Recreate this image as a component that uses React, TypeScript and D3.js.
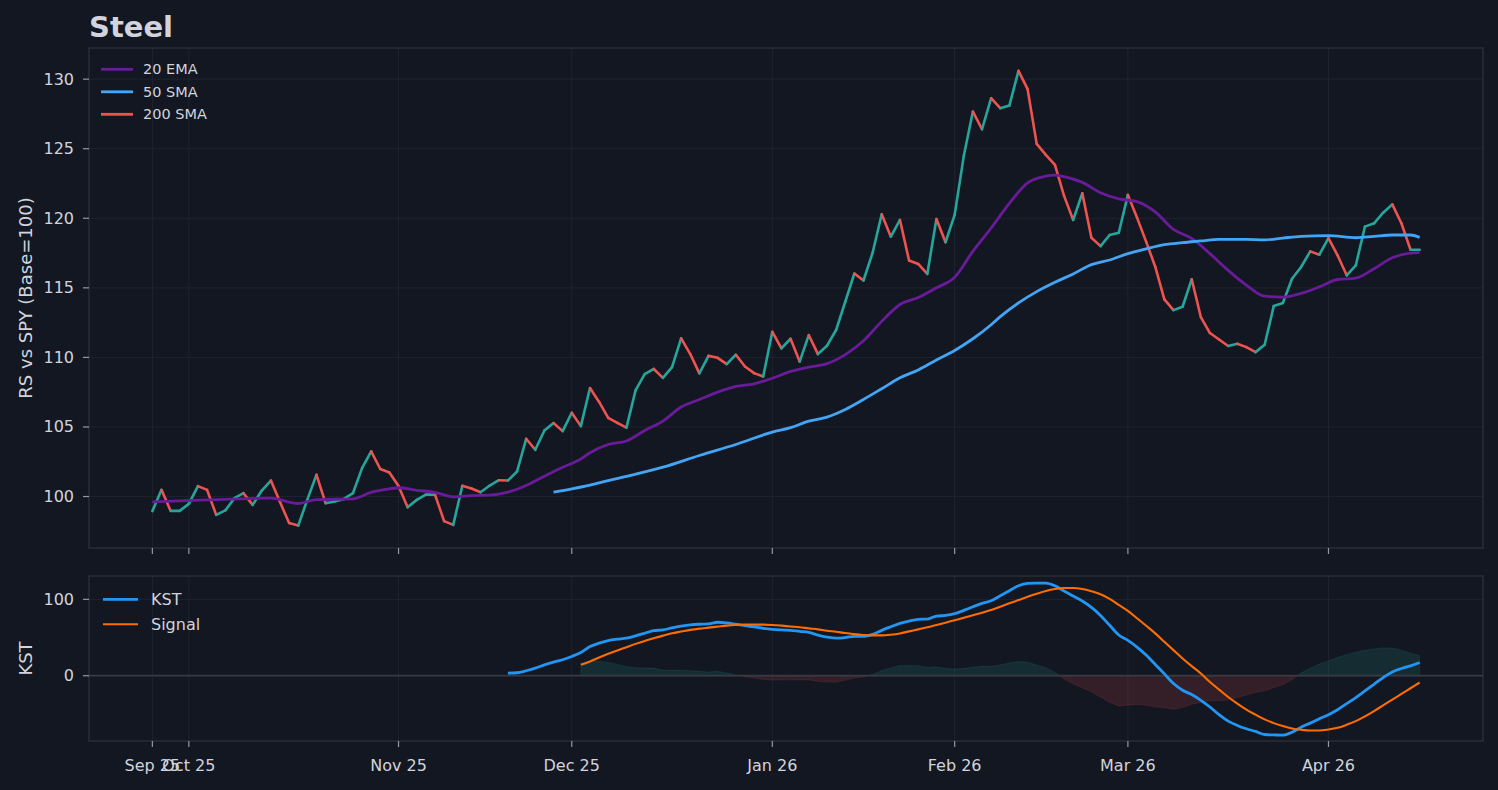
import React, { useEffect, useRef } from 'react';
import * as d3 from 'd3';

// first trading day shown and the NYSE holidays inside the window
const startDate = '2025-09-25';
const marketHolidays = ['2025-11-27', '2025-12-25', '2026-01-01', '2026-01-19', '2026-02-16', '2026-04-03'];

// relative strength vs SPY, one value per trading day
const rsValues = [
  98.95, 100.48, 98.97, 98.97, 99.47, 100.75, 100.48, 98.68, 99.0, 99.88,
  100.24, 99.4, 100.43, 101.15, 99.6, 98.09, 97.91, 99.78, 101.56, 99.52,
  99.64, 99.83, 100.24, 102.04, 103.24, 101.98, 101.73, 100.75, 99.23, 99.76,
  100.14, 100.14, 98.23, 97.96, 100.77, 100.58, 100.31, 100.79, 101.17, 101.15,
  101.8, 104.15, 103.36, 104.75, 105.28, 104.7, 106.02, 105.06, 107.8, 106.8,
  105.66, 105.3, 104.95, 107.63, 108.8, 109.17, 108.53, 109.3, 111.37, 110.24,
  108.85, 110.11, 109.97, 109.52, 110.19, 109.35, 108.87, 108.63, 111.84, 110.65,
  111.34, 109.7, 111.6, 110.24, 110.84, 111.97, 114.0, 116.03, 115.53, 117.52,
  120.29, 118.68, 119.88, 116.96, 116.72, 116.0, 119.95, 118.28, 120.25, 124.47,
  127.67, 126.4, 128.63, 127.91, 128.1, 130.6, 129.28, 125.35, 124.56, 123.84,
  121.61, 119.88, 121.8, 118.6, 118.0, 118.8, 118.96, 121.68, 120.05, 118.32,
  116.52, 114.17, 113.4, 113.64, 115.62, 112.9, 111.75, 111.29, 110.82, 110.98,
  110.74, 110.38, 110.91, 113.69, 113.91, 115.65, 116.5, 117.62, 117.38, 118.58,
  117.34, 115.9, 116.62, 119.4, 119.64, 120.4, 121.0, 119.64, 117.74, 117.74,
];

// 20 EMA, read at these day indices
const emaIdx = [
  0, 6, 13, 16, 18, 22, 24, 26, 27, 29, 31, 33, 35, 37, 39, 41, 43, 45, 47, 48,
  50, 52, 54, 56, 58, 60, 62, 64, 66, 68, 70, 72, 74, 76, 78, 80, 82, 84, 86, 88,
  90, 92, 94, 96, 98, 99, 100, 102, 104, 106, 108, 110, 112, 114, 116, 118, 120, 122, 124, 126,
  128, 130, 132, 134, 136, 138, 139,
];
const emaValues = [
  99.62, 99.76, 99.88, 99.5, 99.78, 99.83, 100.3, 100.55, 100.63, 100.45, 100.3, 99.98, 100.07, 100.1, 100.31, 100.79, 101.46, 102.1, 102.7, 103.15,
  103.74, 103.99, 104.75, 105.42, 106.43, 106.97, 107.5, 107.91, 108.1, 108.5, 108.99, 109.3, 109.55, 110.2, 111.2, 112.59, 113.8, 114.3, 115.0, 115.76,
  117.63, 119.3, 121.07, 122.55, 123.03, 123.1, 123.0, 122.58, 121.84, 121.4, 121.2, 120.46, 119.2, 118.55, 117.46, 116.26, 115.2, 114.4, 114.33, 114.6,
  115.07, 115.6, 115.7, 116.37, 117.16, 117.5, 117.53,
];

// 50 SMA, read at these day indices
const smaIdx = [
  44, 46, 48, 50, 52, 56, 60, 64, 68, 70, 72, 74, 76, 78, 80, 82, 84, 86, 88, 90,
  92, 93, 95, 97, 99, 101, 103, 105, 107, 109, 111, 113, 115, 117, 120, 122, 124, 126, 129, 132,
  134, 136, 138, 139,
];
const smaValues = [
  100.31, 100.55, 100.82, 101.15, 101.45, 102.11, 102.95, 103.74, 104.63, 104.95, 105.42, 105.71, 106.26, 106.98, 107.75, 108.53, 109.1, 109.82, 110.5, 111.34,
  112.35, 112.93, 113.92, 114.73, 115.4, 116.0, 116.67, 117.0, 117.46, 117.8, 118.1, 118.25, 118.37, 118.49, 118.49, 118.45, 118.58, 118.7, 118.75, 118.6,
  118.7, 118.8, 118.8, 118.63,
];

// KST and its signal, one value per day from their first index
const kstStart = 39;
const kstValues = [
  3.5, 3.9, 6.5, 10, 14.3, 17.8, 20.9, 25.2, 30.4, 38.2,
  42.6, 46.1, 47.8, 49.1, 52.2, 55.6, 59.1, 60, 62.6, 64.8,
  66.5, 67.4, 67.8, 70, 69.1, 67.4, 65.6, 63.9, 62.1, 60.8,
  60, 59.5, 58, 56.8, 53.3, 50.7, 49.3, 50, 51.6, 51.6,
  54.2, 59.4, 64.1, 68.6, 71.6, 73.8, 74.2, 78.1, 78.9, 81.2,
  85.6, 90.3, 94.8, 98.2, 104.7, 111.3, 117.8, 120.9, 121.3, 121.3,
  117.8, 110.9, 104.3, 97.8, 89.5, 79, 66, 53.3, 46.3, 37.5,
  27, 14.7, 2.4, -10.3, -19, -24.7, -32.2, -41, -51, -59.5,
  -65.1, -69.5, -73, -77, -77.5, -77.9, -74, -67.4, -62.1, -56.3,
  -51, -44.5, -36.6, -28.7, -20, -11.2, -2.4, 5, 9.5, 12.9,
  17.4,
];
const signalStart = 47;
const signalValues = [
  14.3, 18.7, 23.9, 28.7, 33, 37.4, 41.7, 45.6, 49.1, 52.5,
  55.6, 57.8, 60, 61.7, 63, 64.3, 65.6, 66.5, 66.9, 66.9,
  66.9, 66.5, 65.6, 64.5, 63.5, 62, 60.7, 58.9, 57.6, 55.9,
  54.6, 53.3, 52.8, 52.8, 53.7, 55.4, 58.1, 60.7, 63.4, 66.4,
  69.4, 72.5, 75.9, 79.1, 82.5, 86, 90.3, 94.8, 99.1, 103.4,
  107.3, 110.9, 113.5, 114.8, 114.8, 113.5, 110.6, 106.8, 100.7, 92.8,
  84.9, 75.2, 65.5, 55.5, 44.5, 33.5, 22.6, 12.5, 2.9, -8.2,
  -18.2, -27.9, -36.6, -44.5, -51, -57.2, -62.1, -66, -69.1, -70.8,
  -71.7, -71.7, -70.4, -68.2, -64.2, -59.5, -53.3, -46.3, -38.8, -31.3,
  -23.9, -16.4, -8.9,
];

const rsTicks = [100, 105, 110, 115, 120, 125, 130];
const kstTicks = [0, 100];

const C = {
  bg: '#131722',
  grid: '#1f2330',
  spine: '#2a2e39',
  text: '#d1d4dc',
  tick: '#9598a1',
  up: '#26a69a',
  down: '#ef5350',
  ema: '#6a1b9a',
  sma: '#42a5f5',
  kst: '#2196f3',
  signal: '#ff6d00',
};

const FONT = '"DejaVu Sans", sans-serif';

const buildTradingDays = (start: string, count: number) => {
  const fmt = d3.timeFormat('%Y-%m-%d');
  const holidays = new Set(marketHolidays);
  const out: Date[] = [];
  const d = new Date(start + 'T12:00:00');
  while (out.length < count) {
    const dow = d.getDay();
    if (dow !== 0 && dow !== 6 && !holidays.has(fmt(d))) out.push(new Date(d));
    d.setDate(d.getDate() + 1);
  }
  return out;
};

export default function App() {
  const svgRef = useRef<SVGSVGElement>(null);

  useEffect(() => {
    if (!svgRef.current) return;
    const svg = d3.select(svgRef.current);
    svg.selectAll('*').remove();

    const width = 1498;
    const height = 790;
    const left = 89;
    const right = 1483;
    const top1 = { y0: 48, y1: 548 };
    const top2 = { y0: 576, y1: 741 };

    const n = rsValues.length;
    const days = buildTradingDays(startDate, n);
    const monthFmt = d3.timeFormat('%b %y');
    const tickIdx: number[] = [0];
    for (let i = 1; i < n; i++) {
      if (days[i].getMonth() !== days[i - 1].getMonth()) tickIdx.push(i);
    }

    const pad = (n - 1) * 0.05;
    const x = d3.scaleLinear().domain([-pad, n - 1 + pad]).range([left, right]);
    const yRS = d3.scaleLinear().domain([96.3, 132.24]).range([top1.y1, top1.y0]);
    const yK = d3.scaleLinear().domain([-85.5, 130.6]).range([top2.y1, top2.y0]);

    svg.append('rect').attr('width', width).attr('height', height).attr('fill', C.bg);

    // Title
    svg
      .append('text')
      .attr('x', left)
      .attr('y', 37)
      .attr('font-family', FONT)
      .attr('font-size', '29px')
      .attr('font-weight', 'bold')
      .attr('fill', C.text)
      .text('Steel');

    const drawFrame = (
      panel: { y0: number; y1: number },
      y: d3.ScaleLinear<number, number>,
      ticks: number[],
      label: string,
      showLabels: boolean,
    ) => {
      const g = svg.append('g');
      // grid
      g.selectAll('.hg')
        .data(ticks)
        .enter()
        .append('line')
        .attr('x1', left)
        .attr('x2', right)
        .attr('y1', (d) => y(d))
        .attr('y2', (d) => y(d))
        .attr('stroke', C.grid)
        .attr('stroke-width', 1);
      g.selectAll('.vg')
        .data(tickIdx)
        .enter()
        .append('line')
        .attr('x1', (d) => x(d))
        .attr('x2', (d) => x(d))
        .attr('y1', panel.y0)
        .attr('y2', panel.y1)
        .attr('stroke', C.grid)
        .attr('stroke-width', 1);
      // frame
      g.append('rect')
        .attr('x', left)
        .attr('y', panel.y0)
        .attr('width', right - left)
        .attr('height', panel.y1 - panel.y0)
        .attr('fill', 'none')
        .attr('stroke', C.spine)
        .attr('stroke-width', 1.5);
      // y ticks
      ticks.forEach((t) => {
        g.append('line')
          .attr('x1', left - 6)
          .attr('x2', left)
          .attr('y1', y(t))
          .attr('y2', y(t))
          .attr('stroke', C.tick)
          .attr('stroke-width', 1.2);
        g.append('text')
          .attr('x', left - 15)
          .attr('y', y(t))
          .attr('text-anchor', 'end')
          .attr('dominant-baseline', 'central')
          .attr('font-family', FONT)
          .attr('font-size', '16px')
          .attr('fill', C.text)
          .text(t);
      });
      // x ticks
      tickIdx.forEach((i) => {
        g.append('line')
          .attr('x1', x(i))
          .attr('x2', x(i))
          .attr('y1', panel.y1)
          .attr('y2', panel.y1 + 6)
          .attr('stroke', C.tick)
          .attr('stroke-width', 1.2);
        if (showLabels) {
          g.append('text')
            .attr('x', x(i))
            .attr('y', panel.y1 + 30)
            .attr('text-anchor', 'middle')
            .attr('font-family', FONT)
            .attr('font-size', '16px')
            .attr('fill', C.text)
            .text(monthFmt(days[i]));
        }
      });
      // y label
      g.append('text')
        .attr('transform', `translate(25, ${(panel.y0 + panel.y1) / 2}) rotate(-90)`)
        .attr('text-anchor', 'middle')
        .attr('dominant-baseline', 'central')
        .attr('font-family', FONT)
        .attr('font-size', '18px')
        .attr('fill', C.text)
        .text(label);
    };

    drawFrame(top1, yRS, rsTicks, 'RS vs SPY (Base=100)', false);
    drawFrame(top2, yK, kstTicks, 'KST', true);

    // ---- top panel: RS line coloured by direction
    const rsPts = rsValues.map((v, i) => ({ i, v }));
    svg
      .append('g')
      .selectAll('line')
      .data(rsPts.slice(1))
      .enter()
      .append('line')
      .attr('x1', (d) => x(d.i - 1))
      .attr('y1', (d) => yRS(rsValues[d.i - 1]))
      .attr('x2', (d) => x(d.i))
      .attr('y2', (d) => yRS(d.v))
      .attr('stroke', (d) => (d.v >= rsValues[d.i - 1] ? C.up : C.down))
      .attr('stroke-width', 2.6)
      .attr('stroke-linecap', 'round');

    const lineRS = d3
      .line<[number, number]>()
      .x((d) => x(d[0]))
      .y((d) => yRS(d[1]))
      .curve(d3.curveMonotoneX);

    svg
      .append('path')
      .attr('d', lineRS(emaIdx.map((i, k) => [i, emaValues[k]])))
      .attr('fill', 'none')
      .attr('stroke', C.ema)
      .attr('stroke-width', 2.8);
    svg
      .append('path')
      .attr('d', lineRS(smaIdx.map((i, k) => [i, smaValues[k]])))
      .attr('fill', 'none')
      .attr('stroke', C.sma)
      .attr('stroke-width', 2.8);

    // top legend
    const legTop = [
      { label: '20 EMA', color: C.ema },
      { label: '50 SMA', color: C.sma },
      { label: '200 SMA', color: C.down },
    ];
    legTop.forEach((l, k) => {
      const yy = 69.3 + k * 22.5;
      svg.append('line').attr('x1', 101).attr('x2', 133).attr('y1', yy).attr('y2', yy)
        .attr('stroke', l.color).attr('stroke-width', 2.8);
      svg.append('text').attr('x', 143).attr('y', yy).attr('dominant-baseline', 'central')
        .attr('font-family', FONT).attr('font-size', '14.5px').attr('fill', C.text).text(l.label);
    });

    // ---- bottom panel: KST
    const kstPts: [number, number][] = kstValues.map((v, k) => [kstStart + k, v]);
    const sigPts: [number, number][] = signalValues.map((v, k) => [signalStart + k, v]);
    const histPts: [number, number][] = sigPts.map(([i, s]) => [i, kstValues[i - kstStart] - s]);

    const zeroY = yK(0);
    const defs = svg.append('defs');
    defs.append('clipPath').attr('id', 'clipPos').append('rect')
      .attr('x', left).attr('y', top2.y0).attr('width', right - left).attr('height', zeroY - top2.y0);
    defs.append('clipPath').attr('id', 'clipNeg').append('rect')
      .attr('x', left).attr('y', zeroY).attr('width', right - left).attr('height', top2.y1 - zeroY);

    const histArea = d3
      .area<[number, number]>()
      .x((d) => x(d[0]))
      .y0(zeroY)
      .y1((d) => yK(d[1]));

    [
      { clip: 'clipPos', color: C.up },
      { clip: 'clipNeg', color: C.down },
    ].forEach((h) => {
      svg.append('path')
        .attr('d', histArea(histPts))
        .attr('clip-path', `url(#${h.clip})`)
        .attr('fill', h.color)
        .attr('fill-opacity', 0.15)
        .attr('stroke', h.color)
        .attr('stroke-opacity', 0.12)
        .attr('stroke-width', 1.2);
    });

    svg.append('line').attr('x1', left).attr('x2', right).attr('y1', zeroY).attr('y2', zeroY)
      .attr('stroke', '#363a45').attr('stroke-width', 1.8);

    const lineK = d3
      .line<[number, number]>()
      .x((d) => x(d[0]))
      .y((d) => yK(d[1]))
      .curve(d3.curveMonotoneX);

    svg.append('path').attr('d', lineK(kstPts)).attr('fill', 'none')
      .attr('stroke', C.kst).attr('stroke-width', 2.8);
    svg.append('path').attr('d', lineK(sigPts)).attr('fill', 'none')
      .attr('stroke', C.signal).attr('stroke-width', 2.1);

    const legBot = [
      { label: 'KST', color: C.kst, w: 2.8 },
      { label: 'Signal', color: C.signal, w: 2.1 },
    ];
    legBot.forEach((l, k) => {
      const yy = 599.3 + k * 25;
      svg.append('line').attr('x1', 103).attr('x2', 138).attr('y1', yy).attr('y2', yy)
        .attr('stroke', l.color).attr('stroke-width', l.w);
      svg.append('text').attr('x', 151).attr('y', yy).attr('dominant-baseline', 'central')
        .attr('font-family', FONT).attr('font-size', '16px').attr('fill', C.text).text(l.label);
    });
  }, []);

  return (
    <div style={{ position: 'absolute', left: 0, top: 0, width: 1498, height: 790, background: C.bg }}>
      <svg ref={svgRef} width={1498} height={790} style={{ display: 'block' }} />
    </div>
  );
}
